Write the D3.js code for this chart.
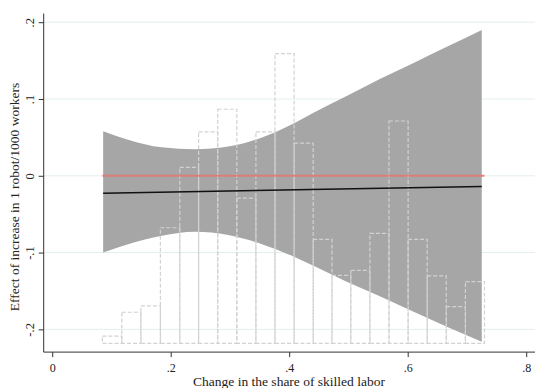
<!DOCTYPE html>
<html>
<head>
<meta charset="utf-8">
<script src="https://cdnjs.cloudflare.com/ajax/libs/d3/7.8.5/d3.min.js"></script>
<style>
  body { margin: 0; background: #fff; }
  svg { display: block; }
  text { font-family: "Liberation Serif", "Times New Roman", serif; fill: #222; }
</style>
</head>
<body>
<svg></svg>
<script>
// axis ticks
var xTicks = [0, 0.2, 0.4, 0.6, 0.8]
var xTickLabels = ['0', '.2', '.4', '.6', '.8']
var yTicks = [-0.2, -0.1, 0, 0.1, 0.2]
var yTickLabels = ['-.2', '-.1', '0', '.1', '.2']

// confidence band
var bandX =     [0.086, 0.128, 0.185, 0.241, 0.297, 0.354, 0.410, 0.441, 0.497, 0.553, 0.610, 0.666, 0.725]
var bandUpper = [0.058, 0.047, 0.037, 0.0345, 0.038, 0.050, 0.069, 0.082, 0.104, 0.126, 0.147, 0.168, 0.190]
var bandLower = [-0.100, -0.089, -0.078, -0.073, -0.077, -0.089, -0.106, -0.117, -0.138, -0.157, -0.177, -0.1965, -0.216]

// marginal effect line
var fitX = [0.086, 0.725]
var fitY = [-0.0227, -0.0141]

// histogram of the moderator (percent)
var binEdges = [0.0847, 0.1175, 0.1497, 0.1826, 0.2154, 0.2471, 0.2793, 0.3116, 0.3438, 0.3760, 0.4083,
                0.4405, 0.4722, 0.5040, 0.5362, 0.5684, 0.6007, 0.6329, 0.6651, 0.6974, 0.7296]
var histPct = [0.29, 1.24, 1.49, 4.61, 7.02, 8.44, 9.34, 5.79, 8.44, 11.56,
               7.99, 4.15, 2.71, 2.91, 4.39, 8.87, 4.15, 2.69, 1.46, 2.46]

var width = 535, height = 388
var plotLeft = 43.7, plotRight = 535, plotTop = 13.6, plotBottom = 352.1

var svg = d3.select('svg').attr('width', width).attr('height', height)

var x = d3.scaleLinear().domain([0, 0.8]).range([52.2, 526.2])
var y = d3.scaleLinear().domain([-0.2296, 0.2112]).range([plotBottom, plotTop])
var yHist = d3.scaleLinear().domain([0, 10]).range([343.3, 92.7])

// gridlines
svg.append('g')
    .selectAll('line')
    .data(yTicks)
    .enter()
    .append('line')
    .attr('x1', plotLeft)
    .attr('x2', plotRight)
    .attr('y1', d => y(d))
    .attr('y2', d => y(d))
    .style('stroke', '#e4eeee')
    .style('stroke-width', 1)

// band
var area = d3.area()
    .x((d, i) => x(bandX[i]))
    .y0((d, i) => y(bandLower[i]))
    .y1((d, i) => y(bandUpper[i]))
    .curve(d3.curveMonotoneX)

svg.append('path')
    .datum(bandX)
    .attr('d', area)
    .style('fill', '#a6a6a6')

// histogram bars, dashed outline, no fill
svg.append('g')
    .selectAll('rect')
    .data(histPct)
    .enter()
    .append('rect')
    .attr('x', (d, i) => x(binEdges[i]))
    .attr('width', (d, i) => x(binEdges[i + 1]) - x(binEdges[i]))
    .attr('y', d => yHist(d))
    .attr('height', d => yHist(0) - yHist(d))
    .style('fill', 'none')
    .style('stroke', '#d2d2d2')
    .style('stroke-width', 1.2)
    .style('stroke-dasharray', '4,2')

// zero reference line
svg.append('line')
    .attr('x1', x(binEdges[0]))
    .attr('x2', x(binEdges[binEdges.length - 1]))
    .attr('y1', y(0))
    .attr('y2', y(0))
    .style('stroke', '#e27a72')
    .style('stroke-opacity', 0.9)
    .style('stroke-width', 2)

// marginal effect
svg.append('path')
    .datum(fitX)
    .attr('d', d3.line().x((d, i) => x(fitX[i])).y((d, i) => y(fitY[i])))
    .style('fill', 'none')
    .style('stroke', '#111')
    .style('stroke-width', 1.5)

// axes
var xAxis = d3.axisBottom(x)
    .tickValues(xTicks)
    .tickFormat((d, i) => xTickLabels[i])
    .tickSize(5)
    .tickSizeOuter(0)

var gx = svg.append('g')
    .attr('transform', 'translate(0,' + plotBottom + ')')
    .call(xAxis)
gx.select('.domain').remove()
gx.append('line').attr('x1', plotLeft).attr('x2', plotRight).style('stroke', '#333')
gx.selectAll('.tick line').style('stroke', '#333')
gx.selectAll('.tick text')
    .attr('dy', null)
    .attr('y', 19.5)
    .style('font-size', '12px')
    .style('font-family', '"Liberation Serif", serif')
    .style('fill', '#222')

var yAxis = d3.axisLeft(y)
    .tickValues(yTicks)
    .tickFormat((d, i) => yTickLabels[i])
    .tickSize(5)
    .tickSizeOuter(0)

var gy = svg.append('g')
    .attr('transform', 'translate(' + plotLeft + ',0)')
    .call(yAxis)
gy.select('.domain').remove()
gy.append('line').attr('y1', plotTop).attr('y2', plotBottom).style('stroke', '#333')
gy.selectAll('.tick line').style('stroke', '#333')
gy.selectAll('.tick text')
    .attr('x', null)
    .attr('dy', null)
    .attr('transform', 'translate(-10,0) rotate(-90)')
    .attr('text-anchor', 'middle')
    .style('font-size', '12.5px')
    .style('font-family', '"Liberation Serif", serif')
    .style('fill', '#222')

// titles
svg.append('text')
    .attr('x', 289)
    .attr('y', 385.5)
    .attr('text-anchor', 'middle')
    .style('font-size', '13.5px')
    .text('Change in the share of skilled labor')

svg.append('text')
    .attr('transform', 'translate(19,197) rotate(-90)')
    .attr('text-anchor', 'middle')
    .style('font-size', '13.5px')
    .text('Effect of increase in 1 robot/1000 workers')
</script>
</body>
</html>
